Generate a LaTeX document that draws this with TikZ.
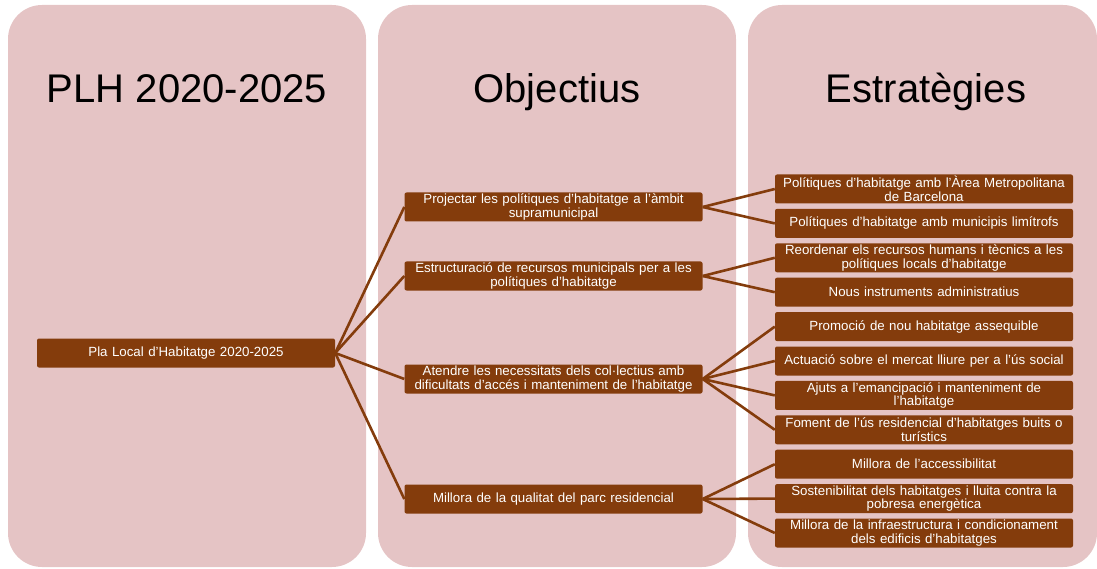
\documentclass[tikz,border=0pt]{standalone}
\usepackage{fontspec}
\setmainfont{Liberation Sans}
\usetikzlibrary{positioning}
\definecolor{pinkcol}{RGB}{229,196,197}
\definecolor{brownbox}{RGB}{132,60,12}

\begin{document}
\begin{tikzpicture}[x=1pt, y=-1pt,
  colbox/.style={fill=pinkcol, rounded corners=34pt},
  coltitle/.style={font=\fontsize{40}{40}\selectfont, anchor=base},
  brbox/.style={fill=brownbox, rounded corners=2pt, text=white, font=\fontsize{13.3}{13.6}\selectfont, align=center, text width=294pt, minimum height=29pt, inner xsep=2pt, inner ysep=0pt},
  link/.style={draw=brownbox, line width=2.6pt}]
  \useasboundingbox (0,0) rectangle (1097,569);
  \pgfmathsetmacro{\colh}{567}
  % columns
  \fill[colbox] (8,5) rectangle (366,\colh);
  \fill[colbox] (378,5) rectangle (736,\colh);
  \fill[colbox] (748,5) rectangle (1097,\colh);
  \node[coltitle] (t1) at (187,103) {PLH 2020-2025};
  \node[coltitle] (t2) at (557,103) {Objectius};
  \node[coltitle] (t3) at (926,103) {Estratègies};
  % root and objectives
  \node[brbox] (root) at (186,353) {Pla Local d’Habitatge 2020-2025};
  \node[brbox] (obj1) at (553.5,207) {Projectar les polítiques d’habitatge a l’àmbit\\supramunicipal};
  \node[brbox] (obj2) at (553.5,276) {Estructuració de recursos municipals per a les\\polítiques d’habitatge};
  \node[brbox] (obj3) at (553.5,379) {Atendre les necessitats dels col·lectius amb\\dificultats d’accés i manteniment de l’habitatge};
  \node[brbox] (obj4) at (553.5,499) {Millora de la qualitat del parc residencial};
  % strategies
  \foreach \i/\txt in {1/{Polítiques d’habitatge amb l’Àrea Metropolitana\\de Barcelona},
                       2/{Polítiques d’habitatge amb municipis limítrofs},
                       3/{Reordenar els recursos humans i tècnics a les\\polítiques locals d’habitatge},
                       4/{Nous instruments administratius},
                       5/{Promoció de nou habitatge assequible},
                       6/{Actuació sobre el mercat lliure per a l’ús social},
                       7/{Ajuts a l’emancipació i manteniment de\\l’habitatge},
                       8/{Foment de l’ús residencial d’habitatges buits o\\turístics},
                       9/{Millora de l’accessibilitat},
                       10/{Sostenibilitat dels habitatges i lluita contra la\\pobresa energètica},
                       11/{Millora de la infraestructura i condicionament\\dels edificis d’habitatges}}
    \node[brbox] (str\i) at (924,{189+34.4*(\i-1)}) {\txt};
  % connectors
  \foreach \o in {1,...,4}
    \draw[link] (root.east) -- (obj\o.west);
  \foreach \o/\s in {1/1,1/2,2/3,2/4,3/5,3/6,3/7,3/8,4/9,4/10,4/11}
    \draw[link] (obj\o.east) -- (str\s.west);
\end{tikzpicture}
\end{document}
